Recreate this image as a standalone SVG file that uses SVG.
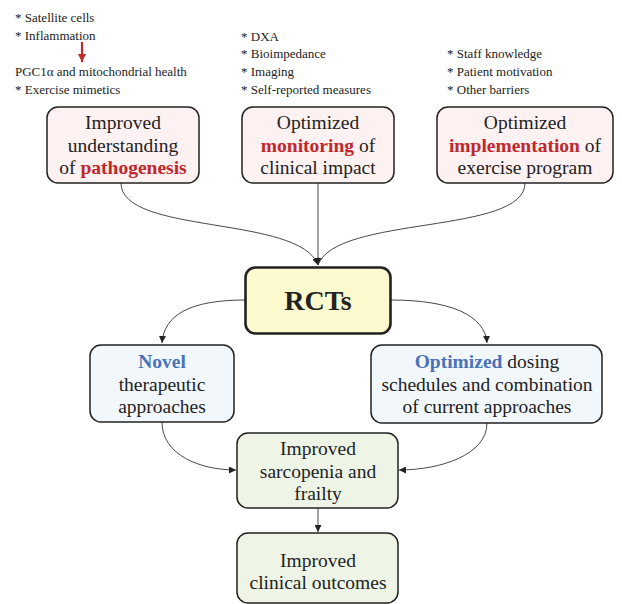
<svg xmlns="http://www.w3.org/2000/svg" width="622" height="604" viewBox="0 0 622 604">
<defs>
<marker id="ah" viewBox="0 0 10 10" refX="10" refY="5" markerWidth="7" markerHeight="7" orient="auto" markerUnits="userSpaceOnUse"><path d="M0,0 L10,5 L0,10 z" fill="#222"/></marker>
<marker id="ahr" viewBox="0 0 10 10" refX="10" refY="5" markerWidth="8" markerHeight="8" orient="auto" markerUnits="userSpaceOnUse"><path d="M0,0 L10,5 L0,10 z" fill="#c0282d"/></marker>
<style>
.box{stroke:#222;stroke-width:1.5}
.pink{fill:#fdf1f1}
.bl{fill:#f2f7fc}
.gr{fill:#eef5e7}
.c{fill:none;stroke:#333;stroke-width:0.9}
</style>
</defs>
<g id="notes" font-family="Liberation Serif" font-size="13" fill="#222">
<text x="15" y="22" font-family="Liberation Serif" font-size="13">* Satellite cells</text>
<text x="15" y="40" font-family="Liberation Serif" font-size="13">* Inflammation</text>
<line x1="82" y1="42" x2="82" y2="62" stroke="#c0282d" stroke-width="2.2" marker-end="url(#ahr)"/>
<text x="15" y="76" font-family="Liberation Serif" font-size="13">PGC1α and mitochondrial health</text>
<text x="15" y="94" font-family="Liberation Serif" font-size="13">* Exercise mimetics</text>
<text x="241" y="41" font-family="Liberation Serif" font-size="13">* DXA</text>
<text x="241" y="58" font-family="Liberation Serif" font-size="13">* Bioimpedance</text>
<text x="241" y="76" font-family="Liberation Serif" font-size="13">* Imaging</text>
<text x="241" y="94" font-family="Liberation Serif" font-size="13">* Self-reported measures</text>
<text x="447" y="58" font-family="Liberation Serif" font-size="13">* Staff knowledge</text>
<text x="447" y="76" font-family="Liberation Serif" font-size="13">* Patient motivation</text>
<text x="447" y="94" font-family="Liberation Serif" font-size="13">* Other barriers</text>
</g>
<g id="connectors">
<path class="c" d="M121,183 C121,235 300,215 318,265" marker-end="url(#ah)"/>
<path class="c" d="M318,183 L318,265" marker-end="url(#ah)"/>
<path class="c" d="M525,183 C525,235 336,215 318,265"/>
<path class="c" d="M245,300 C190,300 164,315 162,343" marker-end="url(#ah)"/>
<path class="c" d="M391,300 C450,300 485,315 487,343" marker-end="url(#ah)"/>
<path class="c" d="M162,422 C162,455 200,470 236,470" marker-end="url(#ah)"/>
<path class="c" d="M487,423 C487,455 440,470 399,470" marker-end="url(#ah)"/>
<path class="c" d="M318,508 L318,532" marker-end="url(#ah)"/>
</g>
<g id="n1" font-family="Liberation Serif" font-size="19.5" text-anchor="middle" fill="#222">
<rect class="box pink" x="47" y="107" width="152" height="76" rx="11"/>
<text x="123" y="129" font-family="Liberation Serif">Improved</text>
<text x="123" y="152" font-family="Liberation Serif">understanding</text>
<text x="123" y="174" font-family="Liberation Serif">of <tspan fill="#c0282d" font-weight="bold">pathogenesis</tspan></text>
</g>
<g id="n2" font-family="Liberation Serif" font-size="19.5" text-anchor="middle" fill="#222">
<rect class="box pink" x="242" y="107" width="152" height="76" rx="11"/>
<text x="318" y="129" font-family="Liberation Serif">Optimized</text>
<text x="318" y="152" font-family="Liberation Serif"><tspan fill="#c0282d" font-weight="bold">monitoring</tspan> of</text>
<text x="318" y="174" font-family="Liberation Serif">clinical impact</text>
</g>
<g id="n3" font-family="Liberation Serif" font-size="19.5" text-anchor="middle" fill="#222">
<rect class="box pink" x="437" y="107" width="176" height="76" rx="11"/>
<text x="525" y="129" font-family="Liberation Serif">Optimized</text>
<text x="525" y="152" font-family="Liberation Serif"><tspan fill="#c0282d" font-weight="bold">implementation</tspan> of</text>
<text x="525" y="174" font-family="Liberation Serif">exercise program</text>
</g>
<g id="rct" font-family="Liberation Serif" fill="#222">
<rect x="245.5" y="267.5" width="145" height="66" rx="10" fill="#fbf9cd" stroke="#222" stroke-width="2.6"/>
<text x="318" y="310" text-anchor="middle" font-size="28" font-weight="bold" font-family="Liberation Serif">RCTs</text>
</g>
<g id="n4" font-family="Liberation Serif" font-size="19.5" text-anchor="middle" fill="#222">
<rect class="box bl" x="90" y="345" width="144" height="77" rx="11"/>
<text x="162" y="368" font-family="Liberation Serif" fill="#4a72b8" font-weight="bold">Novel</text>
<text x="162" y="391" font-family="Liberation Serif">therapeutic</text>
<text x="162" y="413" font-family="Liberation Serif">approaches</text>
</g>
<g id="n5" font-family="Liberation Serif" font-size="19.5" text-anchor="middle" fill="#222">
<rect class="box bl" x="371" y="345" width="231" height="78" rx="11"/>
<text x="487" y="368" font-family="Liberation Serif"><tspan fill="#4a72b8" font-weight="bold">Optimized</tspan> dosing</text>
<text x="487" y="391" font-family="Liberation Serif">schedules and combination</text>
<text x="487" y="413" font-family="Liberation Serif">of current approaches</text>
</g>
<g id="n6" font-family="Liberation Serif" font-size="19.5" text-anchor="middle" fill="#222">
<rect class="box gr" x="237" y="433" width="161" height="75" rx="11"/>
<text x="318" y="455" font-family="Liberation Serif">Improved</text>
<text x="318" y="478" font-family="Liberation Serif">sarcopenia and</text>
<text x="318" y="500" font-family="Liberation Serif">frailty</text>
</g>
<g id="n7" font-family="Liberation Serif" font-size="19.5" text-anchor="middle" fill="#222">
<rect class="box gr" x="237" y="533" width="161" height="70" rx="11"/>
<text x="318" y="567" font-family="Liberation Serif">Improved</text>
<text x="318" y="589" font-family="Liberation Serif">clinical outcomes</text>
</g>
</svg>
